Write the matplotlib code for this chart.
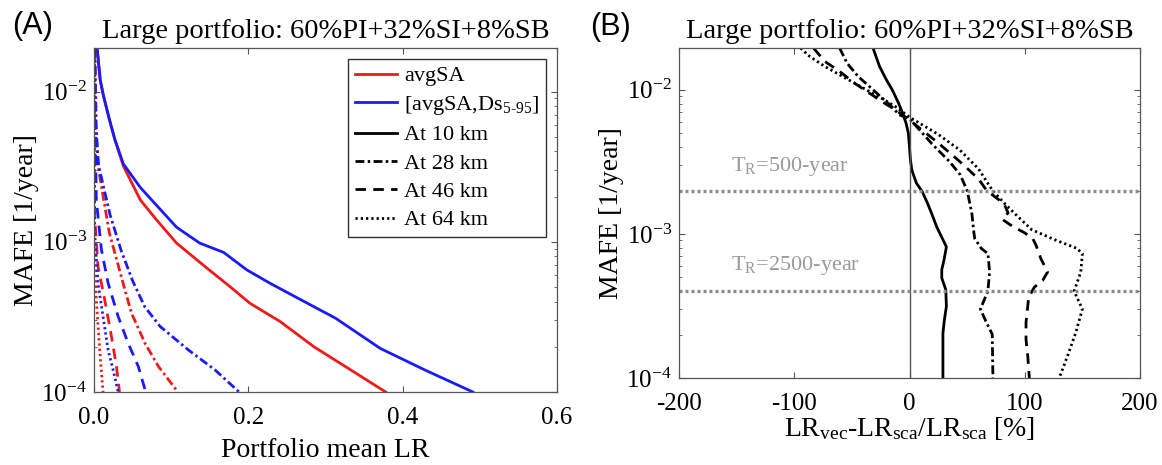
import numpy as np
import matplotlib
matplotlib.use('Agg')
import matplotlib.pyplot as plt
from matplotlib.lines import Line2D
from matplotlib.ticker import LogLocator, NullFormatter

plt.rcParams['font.family'] = 'Liberation Serif'
plt.rcParams['mathtext.fontset'] = 'custom'
plt.rcParams['mathtext.rm'] = 'Liberation Serif'
plt.rcParams['mathtext.it'] = 'Liberation Serif:italic'
plt.rcParams['mathtext.bf'] = 'Liberation Serif:bold'

# ---- panel A: portfolio mean loss ratio vs MAFE ----
red_10_lr = [0.004, 0.008, 0.012, 0.02, 0.027, 0.038, 0.06, 0.081, 0.107, 0.146, 0.176, 0.202, 0.241, 0.285, 0.333, 0.378]
red_10_mafe = [0.0195, 0.012, 0.0095, 0.0065, 0.0048, 0.0032, 0.0019, 0.0014, 0.00098, 0.00067, 0.000504, 0.00039, 0.000295, 0.0002, 0.00014, 0.0001]
blue_10_lr = [0.004, 0.008, 0.012, 0.02, 0.027, 0.038, 0.06, 0.081, 0.107, 0.137, 0.168, 0.198, 0.228, 0.261, 0.313, 0.371, 0.429, 0.491]
blue_10_mafe = [0.0195, 0.012, 0.0095, 0.0065, 0.0048, 0.0033, 0.0023, 0.00175, 0.00125, 0.00098, 0.00085, 0.00065, 0.00053, 0.00043, 0.00031, 0.000195, 0.00014, 0.0001]

red_28_lr = [0.001, 0.003, 0.0052, 0.02, 0.04, 0.0487, 0.0661, 0.0835, 0.1087]
red_28_mafe = [0.0195, 0.006, 0.00318, 0.00114, 0.00048, 0.000334, 0.000211, 0.000148, 0.0001]
blue_28_lr = [0.001, 0.002, 0.006, 0.021, 0.035, 0.050, 0.0657, 0.0857, 0.1226, 0.157, 0.188]
blue_28_mafe = [0.0195, 0.006, 0.0032, 0.0015, 0.00088, 0.00055, 0.000370, 0.000273, 0.00019, 0.00014, 0.0001]

red_46_lr = [0.0005, 0.0008, 0.0009, 0.0052, 0.0139, 0.0226, 0.0291, 0.033]
red_46_mafe = [0.0195, 0.003, 0.00148, 0.000684, 0.00041, 0.000234, 0.000148, 0.0001]
blue_46_lr = [0.001, 0.002, 0.003, 0.0096, 0.0183, 0.0313, 0.0443, 0.0574, 0.067]
blue_46_mafe = [0.0195, 0.004, 0.0019, 0.000885, 0.00053, 0.000318, 0.000211, 0.000148, 0.0001]

red_64_lr = [0.0, 0.0, 0.003, 0.0074, 0.0117]
red_64_mafe = [0.0195, 0.000885, 0.00041, 0.00019, 0.0001]
blue_64_lr = [0.0005, 0.0008, 0.0009, 0.0052, 0.0117, 0.0183, 0.0248, 0.0313]
blue_64_mafe = [0.0195, 0.003, 0.00114, 0.00053, 0.000318, 0.00019, 0.00014, 0.0001]

# ---- panel B: relative difference vector vs scalar ----
b_10_mafe = [0.01945, 0.01452, 0.01172, 0.0100, 0.00809, 0.00689, 0.00587, 0.00501, 0.00398, 0.00327,
             0.00278, 0.00225, 0.00197, 0.00164, 0.00140, 0.00112, 0.000912, 0.000813, 0.000662, 0.000564,
             0.000494, 0.000410, 0.000314, 0.000254, 0.000205, 0.0001]
b_10_diff = [-31.6, -26, -20, -15, -9.5, -6, -3, -1, 0, 0.8,
             2, 6, 11, 15.5, 19, 23.6, 29, 32, 30, 28,
             28, 31.5, 32, 30.3, 29, 29]

b_28_mafe = [0.01945, 0.01531, 0.01236, 0.01054, 0.00899, 0.00766, 0.00671, 0.00631, 0.00417, 0.00316,
             0.00257, 0.00200, 0.00141, 0.00100, 0.000929, 0.000791,
             0.000729, 0.000543, 0.000400, 0.000301, 0.000243, 0.000201, 0.0001]
b_28_diff = [-60.6, -54.2, -44.5, -34.8, -25.2, -15.5, -9, 0, 20, 35,
             44, 50, 54, 56, 56.6, 62.4,
             68.1, 69.5, 68, 61.5, 66.7, 71.8, 72.4]

b_46_mafe = [0.01945, 0.01574, 0.01340, 0.01112, 0.00948, 0.00809, 0.00726, 0.00617, 0.00427, 0.00316,
             0.00240, 0.00200, 0.00162, 0.00140, 0.00126, 0.00112, 0.00102,
             0.000929, 0.000834, 0.000673, 0.000543, 0.000475, 0.000427, 0.000363, 0.000243, 0.000185,
             0.000142, 0.0001]
b_46_diff = [-83.2, -73.5, -60.6, -47.7, -34.8, -21.9, -12.3, 0, 25, 44,
             60, 67, 82, 85.5, 80.6, 90, 99.7,
             106.9, 109.8, 114, 119.8, 115.5, 108.3, 103.4, 101.1, 101.1,
             102.6, 104]

b_64_mafe = [0.01945, 0.01702, 0.01452, 0.01271, 0.01112, 0.00973, 0.00853, 0.00766, 0.00646, 0.00490,
             0.00380, 0.00282, 0.00200, 0.00158, 0.00132, 0.00107, 0.000912,
             0.000794, 0.000730, 0.000543, 0.000400, 0.000301, 0.000207, 0.000142, 0.0001]
b_64_diff = [-94.5, -86.5, -73.5, -60.6, -47.7, -34.8, -21.9, -12.3, 0, 25,
             44, 60, 72, 84, 94, 106, 125.8,
             145.2, 150, 148.6, 142.8, 150, 144.3, 137.1, 129.9]

return_periods = [500, 2500]
title = 'Large portfolio: 60%PI+32%SI+8%SB'

styles = {'10': '-', '28': (0, (3.2, 1.2, 0.9, 1.2)), '46': (0, (3.8, 2.6)), '64': (0, (0.8, 1.1))}
red = '#f01a1a'
blue = '#1a1aff'
spine_c = '#555555'

fig = plt.figure(figsize=(11.62, 4.65), dpi=100)
axA = fig.add_axes([94/1162, 73/465, 463/1162, 344/465])
axB = fig.add_axes([679/1162, 87/465, 461/1162, 330/465])

lw = 2.0
axA.plot(red_10_lr, red_10_mafe, color=red, ls=styles['10'], lw=lw)
axA.plot(blue_10_lr, blue_10_mafe, color=blue, ls=styles['10'], lw=lw)
axA.plot(red_28_lr, red_28_mafe, color=red, ls=styles['28'], lw=lw)
axA.plot(blue_28_lr, blue_28_mafe, color=blue, ls=styles['28'], lw=lw)
axA.plot(red_46_lr, red_46_mafe, color=red, ls=styles['46'], lw=lw)
axA.plot(blue_46_lr, blue_46_mafe, color=blue, ls=styles['46'], lw=lw)
axA.plot(red_64_lr, red_64_mafe, color=red, ls=styles['64'], lw=lw)
axA.plot(blue_64_lr, blue_64_mafe, color=blue, ls=styles['64'], lw=lw)

axB.plot(b_10_diff, b_10_mafe, color='k', ls=styles['10'], lw=lw)
axB.plot(b_28_diff, b_28_mafe, color='k', ls=styles['28'], lw=lw)
axB.plot(b_46_diff, b_46_mafe, color='k', ls=styles['46'], lw=lw)
axB.plot(b_64_diff, b_64_mafe, color='k', ls=styles['64'], lw=lw)
axB.axvline(0, color='#555555', lw=1.0)
for tr in return_periods:
    axB.axhline(1.0/tr, color='#8c8c8c', ls=(0, (0.9, 0.9)), lw=2.4)
axB.text(-155, 0.00295, r'T$_\mathrm{R}$=500-year', color='#9a9a9a', fontsize=16, va='center')
axB.text(-155, 0.00060, r'T$_\mathrm{R}$=2500-year', color='#9a9a9a', fontsize=16, va='center')

handles = [Line2D([], [], color=red, lw=lw), Line2D([], [], color=blue, lw=lw),
           Line2D([], [], color='k', lw=lw, ls=styles['10']), Line2D([], [], color='k', lw=lw, ls=styles['28']),
           Line2D([], [], color='k', lw=lw, ls=styles['46']), Line2D([], [], color='k', lw=lw, ls=styles['64'])]
labels = ['avgSA', r'[avgSA,Ds$_{\mathrm{5\text{-}95}}$]', 'At 10 km', 'At 28 km', 'At 46 km', 'At 64 km']
leg = axA.legend(handles, labels, loc='upper right', fontsize=16, fancybox=False, framealpha=1,
                 edgecolor='#333333', borderpad=0.3, labelspacing=0.35, handlelength=1.9,
                 handletextpad=0.3, borderaxespad=0.5)
leg.get_frame().set_linewidth(1.0)

for ax in (axA, axB):
    ax.set_yscale('log')
    ax.set_ylim(1e-4, 0.0195)
    ax.yaxis.set_major_locator(LogLocator(base=10, numticks=10))
    ax.yaxis.set_minor_locator(LogLocator(base=10, subs=np.arange(2, 10), numticks=10))
    ax.yaxis.set_minor_formatter(NullFormatter())
    ax.tick_params(which='both', direction='in', top=True, right=True, color=spine_c,
                   labelcolor='k', labelsize=18)
    ax.tick_params(which='major', length=4, width=0.8)
    ax.tick_params(which='minor', length=2.5, width=0.6)
    ax.tick_params(axis='y', pad=5)
    ax.tick_params(axis='x', pad=11)
    for s in ax.spines.values():
        s.set_color(spine_c)
        s.set_linewidth(0.9)
    ax.set_title(title, fontsize=20.5, pad=7)
    ax.set_ylabel('MAFE [1/year]', fontsize=20, labelpad=2)

axA.set_xlim(0, 0.6)
axA.set_xticks([0, 0.2, 0.4, 0.6])
axA.set_xticklabels(['0.0', '0.2', '0.4', '0.6'])
axA.set_xlabel('Portfolio mean LR', fontsize=20, labelpad=6)

axB.set_xlim(-200, 200)
axB.set_xticks([-200, -100, 0, 100, 200])
axB.set_xticklabels(['-200', '-100', '0', '100', '200'])
axB.set_xlabel(r'LR$_\mathrm{vec}$-LR$_\mathrm{sca}$/LR$_\mathrm{sca}$ [%]', fontsize=20, labelpad=0)

fig.text(12/1162, 1 - 26/465, '(A)', family='Liberation Sans', fontsize=22, va='center', ha='left')
fig.text(590/1162, 1 - 27/465, '(B)', family='Liberation Sans', fontsize=22, va='center', ha='left')

fig.savefig('out.png', dpi=100)
